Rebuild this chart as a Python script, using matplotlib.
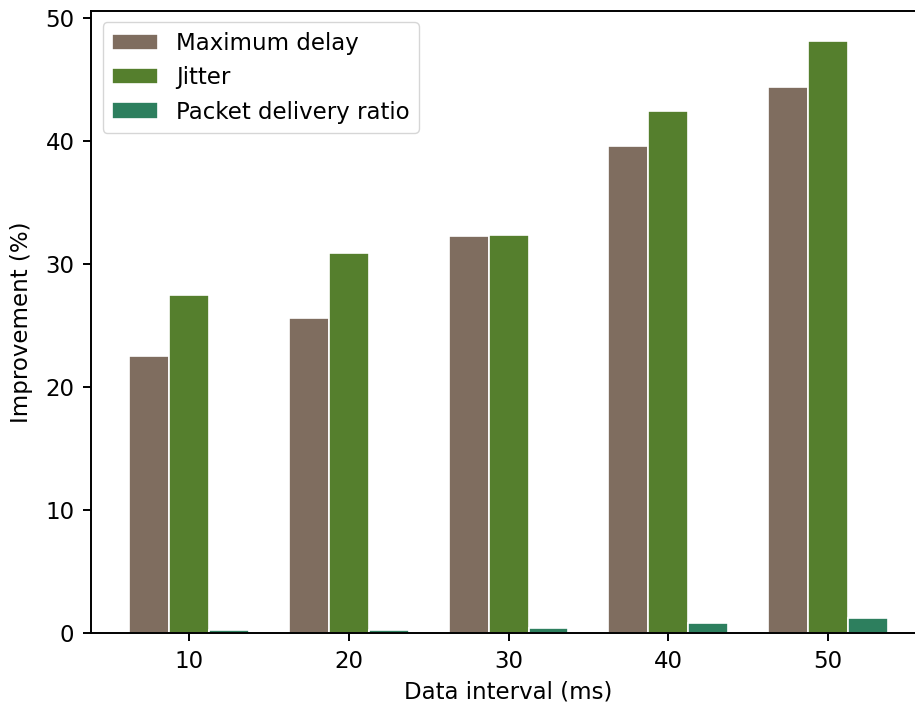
import matplotlib
matplotlib.use("Agg")
import matplotlib.pyplot as plt
import numpy as np

# Improvement per data interval, in percent
intervals = ["10", "20", "30", "40", "50"]
max_delay = [22.5, 25.6, 32.3, 39.6, 44.4]
jitter = [27.5, 30.9, 32.4, 42.5, 48.2]
delivery_ratio = [0.28, 0.28, 0.38, 0.8, 1.2]

bar_width = 0.25
plt.rcParams['font.size'] = 16.5
plt.rcParams['axes.linewidth'] = 1.4

fig = plt.figure(figsize=(9.15, 7.08), dpi=100)
# the axes run past the right edge, so the right spine is cut off
ax = fig.add_axes([0.0995, 0.106, 0.9126, 0.8785])

r1 = np.arange(len(intervals))
r2 = r1 + bar_width
r3 = r2 + bar_width

ax.bar(r1, max_delay, color='#7f6d5f', width=bar_width, edgecolor='white',
       linewidth=1.2, label='Maximum delay')
ax.bar(r2, jitter, color='#557f2d', width=bar_width, edgecolor='white',
       linewidth=1.2, label='Jitter')
ax.bar(r3, delivery_ratio, color='#2d7f5e', width=bar_width, edgecolor='white',
       linewidth=1.2, label='Packet delivery ratio')

ax.set_xticks(r2)
ax.set_xticklabels(intervals)
ax.set_yticks([0, 10, 20, 30, 40, 50])
ax.tick_params(width=1.4, length=6, pad=6)
ax.set_xlabel('Data interval (ms)', labelpad=6)
ax.set_ylabel('Improvement (%)', labelpad=9)
ax.legend(loc='upper left')

fig.savefig('out.png', dpi=100)
